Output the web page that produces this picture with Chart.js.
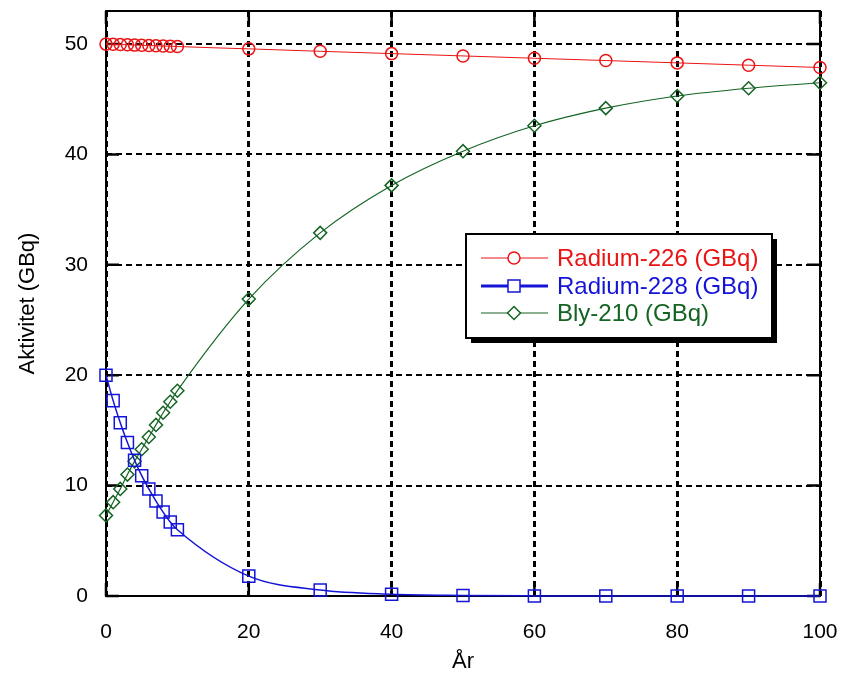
<!DOCTYPE html>
<html>
<head>
<meta charset="utf-8">
<script src="https://cdn.jsdelivr.net/npm/chart.js@4.4.1/dist/chart.umd.min.js"></script>
<style>
  html, body { margin: 0; padding: 0; background: #fff; }
</style>
</head>
<body>
<canvas id="chart" width="844" height="673"></canvas>
<script>
// ---- data ----
const years = [0, 1, 2, 3, 4, 5, 6, 7, 8, 9, 10, 20, 30, 40, 50, 60, 70, 80, 90, 100];
const radium226 = [50.0, 49.98, 49.96, 49.94, 49.91, 49.89, 49.87, 49.85, 49.83, 49.81, 49.78,
                   49.57, 49.35, 49.14, 48.93, 48.72, 48.51, 48.30, 48.09, 47.88];
const radium228 = [20.0, 17.7, 15.7, 13.9, 12.3, 10.9, 9.7, 8.6, 7.6, 6.7, 6.0,
                   1.8, 0.54, 0.16, 0.05, 0.01, 0.0, 0.0, 0.0, 0.0];
const bly210 = [7.3, 8.5, 9.7, 11.0, 12.2, 13.3, 14.4, 15.5, 16.6, 17.6, 18.6,
                26.9, 32.9, 37.2, 40.3, 42.6, 44.2, 45.3, 46.0, 46.5];
const xTicks = [0, 20, 40, 60, 80, 100];
const yTicks = [0, 10, 20, 30, 40, 50];
const seriesNames = ["Radium-226 (GBq)", "Radium-228 (GBq)", "Bly-210 (GBq)"];

const FONT = "'Liberation Sans', Arial, sans-serif";
const RED = "rgb(235,20,20)";
const BLUE = "rgb(20,20,215)";
const GREEN = "rgb(20,100,35)";

function points(values) {
  return years.map((x, i) => ({ x: x, y: values[i] }));
}

function noPad(s) {
  s.paddingLeft = 0; s.paddingRight = 0; s.paddingTop = 0; s.paddingBottom = 0;
}

// ---- ramme + ticks inn mot plottet ----
const framePlugin = {
  id: "frame",
  beforeDatasetsDraw(chart) {
    const { ctx, chartArea: a, scales } = chart;
    ctx.save();
    ctx.strokeStyle = "#000";
    ctx.lineWidth = 2;
    ctx.strokeRect(a.left, a.top, a.right - a.left, a.bottom - a.top);
    ctx.lineWidth = 2.5;
    ctx.beginPath();
    xTicks.forEach(v => {
      const x = scales.x.getPixelForValue(v);
      ctx.moveTo(x, a.bottom); ctx.lineTo(x, a.bottom - 13);
      ctx.moveTo(x, a.top); ctx.lineTo(x, a.top + 13);
    });
    yTicks.forEach(v => {
      const y = scales.y.getPixelForValue(v);
      ctx.moveTo(a.left, y); ctx.lineTo(a.left + 13, y);
      ctx.moveTo(a.right, y); ctx.lineTo(a.right - 13, y);
    });
    ctx.stroke();
    ctx.restore();
  }
};

// ---- egen legende med skygge ----
const legendBox = {
  id: "legendBox",
  afterDraw(chart) {
    const { ctx } = chart;
    const bx = 466, by = 234, bw = 306, bh = 104;
    ctx.save();
    ctx.fillStyle = "#000";
    ctx.fillRect(bx + 5, by + 5, bw, bh);
    ctx.fillStyle = "#fff";
    ctx.fillRect(bx, by, bw, bh);
    ctx.strokeStyle = "#000";
    ctx.lineWidth = 2;
    ctx.strokeRect(bx, by, bw, bh);

    const rows = [258, 286, 313];
    const legendLine = [1, 3, 1];
    chart.data.datasets.forEach((ds, i) => {
      const y = rows[i];
      ctx.strokeStyle = ds.borderColor;
      ctx.lineWidth = legendLine[i];
      ctx.beginPath();
      ctx.moveTo(481, y);
      ctx.lineTo(548, y);
      ctx.stroke();
      ctx.fillStyle = "#fff";
      ctx.lineWidth = 1.5;
      Chart.helpers.drawPoint(ctx, {
        pointStyle: ds.pointStyle, radius: ds.pointRadius,
        borderWidth: 1.5, rotation: 0
      }, 514, y);
      ctx.fillStyle = ds.borderColor;
      ctx.font = "24px " + FONT;
      ctx.textBaseline = "middle";
      ctx.textAlign = "left";
      ctx.fillText(seriesNames[i], 557, y + 1);
    });
    ctx.restore();
  }
};

function makeSet(label, values, color, style, radius, width) {
  return {
    label: label,
    data: points(values),
    borderColor: color,
    backgroundColor: "transparent",
    borderWidth: width,
    pointStyle: style,
    pointRadius: radius,
    pointHoverRadius: radius,
    pointBorderColor: color,
    pointBackgroundColor: "transparent",
    pointBorderWidth: 1.5,
    cubicInterpolationMode: "monotone",
    showLine: true,
    clip: false
  };
}

new Chart(document.getElementById("chart"), {
  type: "scatter",
  data: {
    datasets: [
      makeSet(seriesNames[0], radium226, RED, "circle", 6, 1),
      makeSet(seriesNames[1], radium228, BLUE, "rect", 8.5, 1.5),
      makeSet(seriesNames[2], bly210, GREEN, "rectRot", 6.5, 1.2)
    ]
  },
  options: {
    responsive: false,
    animation: false,
    layout: { padding: { top: 11, right: 24, left: 0, bottom: 0 } },
    plugins: {
      legend: { display: false },
      tooltip: { enabled: false }
    },
    scales: {
      x: {
        type: "linear",
        min: 0,
        max: 100,
        afterFit: s => { s.height = 77; noPad(s); },
        afterBuildTicks: s => { s.ticks = xTicks.map(v => ({ value: v })); },
        ticks: { color: "#000", padding: 24, font: { family: FONT, size: 21 }, maxRotation: 0 },
        grid: { color: "#000", lineWidth: 3, drawTicks: false },
        border: { display: false, dash: [6, 4] },
        title: { display: true, text: "År", color: "#000", font: { family: FONT, size: 22 }, padding: { top: 0, bottom: -2 } }
      },
      y: {
        min: 0,
        max: 53,
        afterFit: s => { s.width = 106; noPad(s); },
        afterBuildTicks: s => { s.ticks = yTicks.map(v => ({ value: v })); },
        ticks: { color: "#000", padding: 18, font: { family: FONT, size: 21 } },
        grid: { color: "#000", lineWidth: 2, drawTicks: false },
        border: { display: false, dash: [6, 4] },
        title: { display: true, text: "Aktivitet (GBq)", color: "#000", font: { family: FONT, size: 22 }, padding: { top: 15, bottom: 0 } }
      }
    }
  },
  plugins: [framePlugin, legendBox]
});
</script>
</body>
</html>
